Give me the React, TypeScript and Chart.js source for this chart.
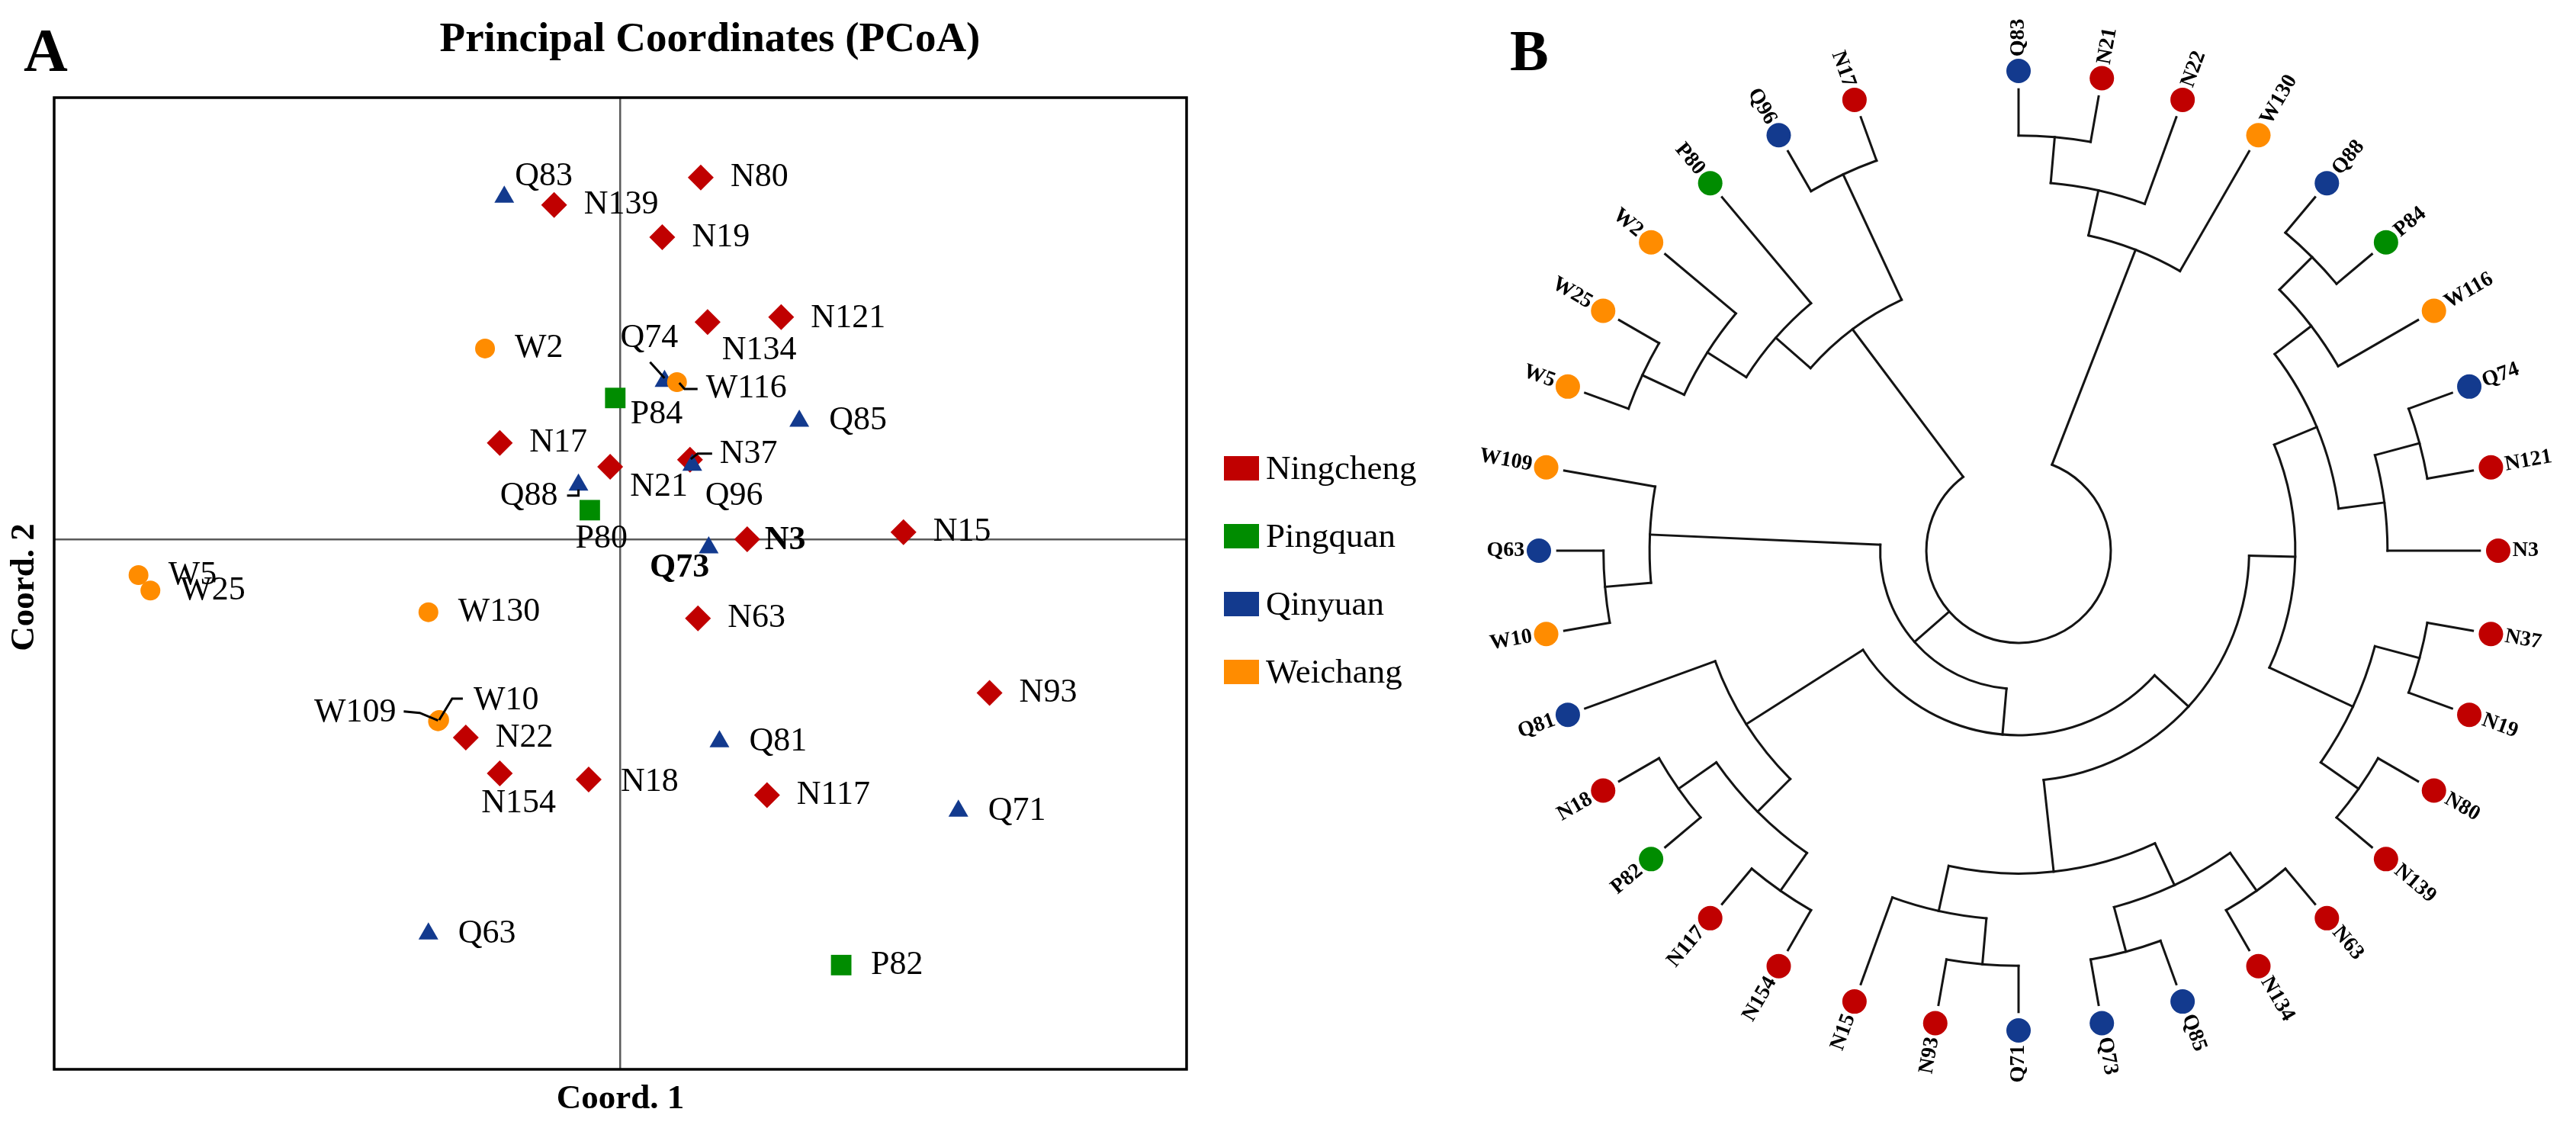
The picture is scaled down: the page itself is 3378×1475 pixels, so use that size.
import React, { useEffect, useRef } from 'react';
import { Chart, registerables } from 'chart.js';

Chart.register(...registerables);

const SERIF = '"Liberation Serif", "Times New Roman", Times, serif';

// ---------------- Panel A : PCoA ----------------
const populations = ['Ningcheng', 'Pingquan', 'Qinyuan', 'Weichang'];
const populationColors = ['#C00000', '#008C00', '#133A8E', '#FF8C00'];
const populationPrefixes = ['N', 'P', 'Q', 'W'];
const markerStyles = ['rectRot', 'rect', 'triangle', 'circle'];
const markerRadii = [17, 19, 15, 13];

const ningchengNames = ['N139', 'N17', 'N21', 'N80', 'N19', 'N134', 'N121', 'N37', 'N3', 'N15', 'N22', 'N154', 'N18', 'N63', 'N93', 'N117'];
const ningchengCoord1 = [-0.117, -0.213, -0.018, 0.142, 0.074, 0.154, 0.284, 0.123, 0.224, 0.5, -0.273, -0.213, -0.056, 0.137, 0.652, 0.259];
const ningchengCoord2 = [0.757, 0.218, 0.164, 0.819, 0.684, 0.492, 0.503, 0.18, 0.0, 0.016, -0.449, -0.53, -0.544, -0.179, -0.348, -0.579];

const pingquanNames = ['P84', 'P80', 'P82'];
const pingquanCoord1 = [-0.009, -0.054, 0.39];
const pingquanCoord2 = [0.32, 0.066, -0.964];

const qinyuanNames = ['Q83', 'Q88', 'Q74', 'Q85', 'Q96', 'Q73', 'Q63', 'Q81', 'Q71'];
const qinyuanCoord1 = [-0.205, -0.074, 0.078, 0.316, 0.127, 0.156, -0.339, 0.175, 0.597];
const qinyuanCoord2 = [0.775, 0.123, 0.358, 0.268, 0.168, -0.019, -0.893, -0.458, -0.615];

const weichangNames = ['W2', 'W5', 'W25', 'W116', 'W130', 'W109', 'W10'];
const weichangCoord1 = [-0.239, -0.851, -0.83, 0.1, -0.339, -0.322, -0.32];
const weichangCoord2 = [0.432, -0.081, -0.116, 0.356, -0.165, -0.412, -0.409];

const groupNames = [ningchengNames, pingquanNames, qinyuanNames, weichangNames];
const groupCoord1 = [ningchengCoord1, pingquanCoord1, qinyuanCoord1, weichangCoord1];
const groupCoord2 = [ningchengCoord2, pingquanCoord2, qinyuanCoord2, weichangCoord2];

const pcoaTitle = 'Principal Coordinates (PCoA)';
const axisTitleX = 'Coord. 1';
const axisTitleY = 'Coord. 2';

// label placement (style): [dx, dy, align]
const defaultPlacement: [number, number, CanvasTextAlign] = [39, 0, 'left'];
const labelPlacement: Record<string, [number, number, CanvasTextAlign]> = {
  Q83: [14, -27, 'left'],
  P84: [20, 22, 'left'],
  N21: [26, 26, 'left'],
  Q88: [-27, 15, 'right'],
  P80: [-19, 38, 'left'],
  N134: [19, 37, 'left'],
  N121: [39, 2, 'left'],
  Q74: [-58, -56, 'left'],
  W116: [38, 9, 'left'],
  N37: [39, -7, 'left'],
  Q96: [17, 41, 'left'],
  N3: [23, 2, 'left'],
  Q73: [1, 27, 'right'],
  W109: [-55, -11, 'right'],
  W10: [45, -26, 'left'],
  N154: [-24, 39, 'left'],
  N18: [42, 3, 'left'],
};
const boldLabels = ['N3', 'Q73'];
const leaderLines: Record<string, number[][]> = {
  Q88: [[-15, 14], [0, 14], [0, 6]],
  Q74: [[-19, -25], [0, -4]],
  W116: [[3, 1], [10, 9], [27, 9]],
  N37: [[1, -1], [10, -8], [29, -8]],
  W10: [[0, 0], [17, -28], [31, -28]],
  W109: [[-45, -13], [-24, -11], [0, -1]],
};

// ---------------- Panel B : dendrogram ----------------
const leafOrder = ['Q83', 'N21', 'N22', 'W130', 'Q88', 'P84', 'W116', 'Q74', 'N121', 'N3', 'N37', 'N19', 'N80', 'N139', 'N63', 'N134', 'Q85', 'Q73', 'Q71', 'N93', 'N15', 'N154', 'N117', 'P82', 'N18', 'Q81', 'W10', 'Q63', 'W109', 'W5', 'W25', 'W2', 'P80', 'Q96', 'N17'];
const angularSlots = 36;

type TreeNode = { h: number; c: Array<TreeNode | string> };
const nd = (h: number, ...c: Array<TreeNode | string>): TreeNode => ({ h, c });

const tree = nd(2,
  nd(7, nd(8, nd(9, 'Q83', 'N21'), 'N22'), 'W130'),
  nd(3,
    nd(4,
      nd(5,
        nd(6,
          nd(7,
            nd(8, nd(9, 'Q88', 'P84'), 'W116'),
            nd(8, nd(9, 'Q74', 'N121'), 'N3')),
          nd(8, nd(9, 'N37', 'N19'), nd(9, 'N80', 'N139'))),
        nd(7,
          nd(8, nd(9, 'N63', 'N134'), nd(9, 'Q85', 'Q73')),
          nd(8, nd(9, 'Q71', 'N93'), 'N15'))),
      nd(7,
        nd(8, nd(9, 'N154', 'N117'), nd(9, 'P82', 'N18')),
        'Q81')),
    nd(8, nd(9, 'W10', 'Q63'), 'W109')),
  nd(6,
    nd(7, nd(8, nd(9, 'W5', 'W25'), 'W2'), 'P80'),
    nd(9, 'Q96', 'N17')));

const leafTip = 10;
const leafDot = 10.4;
const leafLabelAt = 10.71;
const radialMax = 10.4;

const colorOf = (name: string) => populationColors[populationPrefixes.indexOf(name[0])];

// ---------------- Components ----------------
function PcoaPanel() {
  const ref = useRef<HTMLCanvasElement>(null);
  useEffect(() => {
    const canvas = ref.current;
    if (!canvas) return;
    const datasets = populations.map((pop, i) => ({
      label: pop,
      data: groupNames[i].map((n, j) => ({ x: groupCoord1[i][j], y: groupCoord2[i][j], name: n })),
      pointStyle: markerStyles[i],
      pointRadius: markerRadii[i],
      pointHoverRadius: markerRadii[i],
      backgroundColor: populationColors[i],
      borderColor: populationColors[i],
      pointBorderWidth: 0,
      borderWidth: 0,
      order: 4 - i,
    }));

    const decor = {
      id: 'pcoaDecor',
      afterDatasetsDraw(chart: any) {
        const { ctx, chartArea: a } = chart;
        ctx.save();
        ctx.strokeStyle = '#000';
        ctx.lineWidth = 3.5;
        ctx.strokeRect(a.left, a.top, a.right - a.left, a.bottom - a.top);

        chart.data.datasets.forEach((ds: any, di: number) => {
          const meta = chart.getDatasetMeta(di);
          meta.data.forEach((el: any, j: number) => {
            const name = ds.data[j].name;
            const p = labelPlacement[name] || defaultPlacement;
            ctx.font = `${boldLabels.includes(name) ? 'bold ' : ''}44px ${SERIF}`;
            ctx.textAlign = p[2];
            ctx.textBaseline = 'middle';
            ctx.fillStyle = '#000';
            ctx.fillText(name, el.x + p[0], el.y + p[1]);
            const lead = leaderLines[name];
            if (lead) {
              ctx.beginPath();
              lead.forEach(([dx, dy], k) => {
                if (k === 0) ctx.moveTo(el.x + dx, el.y + dy);
                else ctx.lineTo(el.x + dx, el.y + dy);
              });
              ctx.lineWidth = 3;
              ctx.strokeStyle = '#000';
              ctx.stroke();
            }
          });
        });

        // title, panel letter, axis titles
        ctx.fillStyle = '#000';
        ctx.textBaseline = 'alphabetic';
        ctx.font = `bold 55px ${SERIF}`;
        ctx.textAlign = 'center';
        ctx.fillText(pcoaTitle, 931, 67);
        ctx.font = `bold 80px ${SERIF}`;
        ctx.textAlign = 'left';
        ctx.fillText('A', 31, 93);
        ctx.font = `bold 45px ${SERIF}`;
        ctx.textAlign = 'center';
        ctx.fillText(axisTitleX, (a.left + a.right) / 2, 1453);
        ctx.save();
        ctx.translate(32, (a.top + a.bottom) / 2 + 5);
        ctx.rotate(-Math.PI / 2);
        ctx.textBaseline = 'middle';
        ctx.fillText(axisTitleY, 0, 0);
        ctx.restore();

        // legend
        ctx.font = `45px ${SERIF}`;
        ctx.textAlign = 'left';
        ctx.textBaseline = 'middle';
        chart.data.datasets.forEach((ds: any, i: number) => {
          const cy = 614 + 89 * i;
          const lx = a.right + 49;
          ctx.fillStyle = ds.backgroundColor;
          ctx.fillRect(lx, cy - 16, 46, 32);
          ctx.fillStyle = '#000';
          ctx.fillText(ds.label, lx + 55, cy + 2);
        });
        ctx.restore();
      },
    };

    const zeroLine = (c: any) => (c.tick && c.tick.value === 0 ? '#5a5a5a' : 'rgba(0,0,0,0)');
    const chart = new Chart(canvas, {
      type: 'scatter',
      data: { datasets } as any,
      options: {
        responsive: false,
        maintainAspectRatio: false,
        animation: false,
        events: [],
        layout: { padding: { left: 71, top: 128, right: 360, bottom: 73 } },
        plugins: { legend: { display: false }, title: { display: false }, tooltip: { enabled: false } },
        scales: {
          x: {
            type: 'linear', min: -1, max: 1,
            ticks: { display: false, stepSize: 1 },
            grid: { drawTicks: false, color: zeroLine, lineWidth: 2.5 },
            border: { display: false },
            title: { display: false },
          },
          y: {
            type: 'linear', min: -1.2, max: 1.0,
            ticks: { display: false, stepSize: 1 },
            grid: { drawTicks: false, color: zeroLine, lineWidth: 2.5 },
            border: { display: false },
            title: { display: false },
          },
        },
      } as any,
      plugins: [decor],
    });
    return () => chart.destroy();
  }, []);
  return <canvas ref={ref} width={1916} height={1475} style={{ position: 'absolute', left: 0, top: 0 }} />;
}

function DendrogramPanel() {
  const ref = useRef<HTMLCanvasElement>(null);
  useEffect(() => {
    const canvas = ref.current;
    if (!canvas) return;

    const treePlugin = {
      id: 'treeBranches',
      beforeDatasetsDraw(chart: any) {
        const { ctx } = chart;
        const s = chart.scales.r;
        ctx.save();
        ctx.strokeStyle = '#141414';
        ctx.lineWidth = 3;
        ctx.lineCap = 'square';
        const walk = (node: TreeNode | string): { a: number; h: number } => {
          if (typeof node === 'string') return { a: leafOrder.indexOf(node), h: leafTip };
          const kids = node.c.map(walk);
          const lo = Math.min(...kids.map((k) => k.a));
          const hi = Math.max(...kids.map((k) => k.a));
          kids.forEach((k) => {
            const p1 = s.getPointPositionForValue(k.a, k.h);
            const p2 = s.getPointPositionForValue(k.a, node.h);
            ctx.beginPath();
            ctx.moveTo(p1.x, p1.y);
            ctx.lineTo(p2.x, p2.y);
            ctx.stroke();
          });
          ctx.beginPath();
          ctx.arc(s.xCenter, s.yCenter, s.getDistanceFromCenterForValue(node.h),
            s.getIndexAngle(lo) - Math.PI / 2, s.getIndexAngle(hi) - Math.PI / 2, false);
          ctx.stroke();
          return { a: (lo + hi) / 2, h: node.h };
        };
        walk(tree);
        ctx.restore();
      },
      afterDatasetsDraw(chart: any) {
        const { ctx } = chart;
        const s = chart.scales.r;
        ctx.save();
        ctx.fillStyle = '#000';
        ctx.font = `bold 28px ${SERIF}`;
        ctx.textBaseline = 'middle';
        leafOrder.forEach((name, i) => {
          const p = s.getPointPositionForValue(i, leafLabelAt);
          const ang = s.getIndexAngle(i);
          const rightHalf = ang < Math.PI - 1e-6;
          ctx.save();
          ctx.translate(p.x, p.y);
          ctx.rotate(rightHalf ? ang - Math.PI / 2 : ang + Math.PI / 2);
          ctx.textAlign = rightHalf ? 'left' : 'right';
          ctx.fillText(name, 0, 0);
          ctx.restore();
        });
        ctx.font = `bold 76px ${SERIF}`;
        ctx.textAlign = 'left';
        ctx.textBaseline = 'alphabetic';
        ctx.fillText('B', 64, 92);
        ctx.restore();
      },
    };

    const labels = [...leafOrder];
    while (labels.length < angularSlots) labels.push('');
    const values: (number | null)[] = labels.map((l) => (l ? leafDot : null));
    const colors = labels.map((l) => (l ? colorOf(l) : 'rgba(0,0,0,0)'));

    const chart = new Chart(canvas, {
      type: 'radar',
      data: {
        labels,
        datasets: [{
          data: values,
          pointBackgroundColor: colors,
          pointBorderColor: colors,
          pointBorderWidth: 0,
          pointRadius: 16,
          pointHoverRadius: 16,
          showLine: false,
          borderWidth: 0,
          fill: false,
        }],
      } as any,
      options: {
        responsive: false,
        maintainAspectRatio: false,
        animation: false,
        events: [],
        layout: { padding: { left: 0, right: 0, top: 93, bottom: 93 } },
        plugins: { legend: { display: false }, tooltip: { enabled: false }, title: { display: false } },
        scales: {
          r: {
            min: 0,
            max: radialMax,
            startAngle: 0,
            ticks: { display: false },
            grid: { display: false },
            angleLines: { display: false },
            pointLabels: { display: false },
          },
        },
      } as any,
      plugins: [treePlugin],
    });
    return () => chart.destroy();
  }, []);
  return <canvas ref={ref} width={1462} height={1444} style={{ position: 'absolute', left: 1916, top: 0 }} />;
}

export default function App() {
  return (
    <div style={{ position: 'absolute', left: 0, top: 0, width: 3378, height: 1475, background: '#ffffff', overflow: 'hidden' }}>
      <PcoaPanel />
      <DendrogramPanel />
    </div>
  );
}
